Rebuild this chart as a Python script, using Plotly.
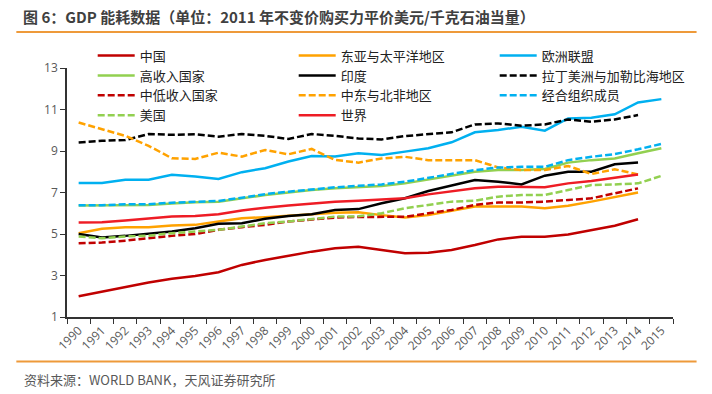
import plotly.graph_objects as go

years = ['1990', '1991', '1992', '1993', '1994', '1995', '1996', '1997', '1998', '1999',
         '2000', '2001', '2002', '2003', '2004', '2005', '2006', '2007', '2008', '2009',
         '2010', '2011', '2012', '2013', '2014', '2015']

china = [2.0, 2.22, 2.47, 2.66, 2.84, 2.98, 3.16, 3.51, 3.75, 3.96, 4.15, 4.31, 4.39, 4.23,
         4.07, 4.1, 4.23, 4.47, 4.74, 4.87, 4.87, 4.98, 5.19, 5.4, 5.71, None]
east_asia = [5.04, 5.25, 5.33, 5.33, 5.41, 5.44, 5.6, 5.76, 5.81, 5.87, 5.95, 6.03, 6.05, 5.91,
             5.8, 5.91, 6.1, 6.32, 6.32, 6.32, 6.24, 6.36, 6.56, 6.77, 7.0, None]
eu = [7.46, 7.46, 7.61, 7.61, 7.85, 7.77, 7.65, 7.98, 8.17, 8.49, 8.76, 8.73, 8.89, 8.81,
      8.97, 9.13, 9.42, 9.9, 10.01, 10.17, 9.98, 10.57, 10.6, 10.77, 11.34, 11.5]
high_income = [6.37, 6.37, 6.4, 6.4, 6.47, 6.53, 6.55, 6.72, 6.88, 7.0, 7.12, 7.2, 7.26, 7.31,
               7.44, 7.63, 7.84, 8.0, 8.08, 8.08, 8.13, 8.44, 8.56, 8.64, 8.89, 9.13]
india = [5.0, 4.83, 4.91, 5.0, 5.12, 5.28, 5.49, 5.52, 5.73, 5.87, 5.95, 6.16, 6.2, 6.48,
         6.72, 7.07, 7.33, 7.6, 7.52, 7.39, 7.81, 8.0, 8.0, 8.36, 8.45, None]
latin = [9.41, 9.49, 9.53, 9.82, 9.78, 9.81, 9.69, 9.82, 9.73, 9.58, 9.82, 9.73, 9.6, 9.56,
         9.72, 9.82, 9.9, 10.28, 10.33, 10.22, 10.28, 10.52, 10.41, 10.52, 10.73, None]
lower_middle = [4.55, 4.59, 4.68, 4.8, 4.91, 5.0, 5.2, 5.33, 5.44, 5.6, 5.68, 5.79, 5.82, 5.83,
                5.83, 6.0, 6.16, 6.4, 6.52, 6.52, 6.56, 6.64, 6.72, 6.96, 7.2, None]
mena = [10.37, 10.05, 9.73, 9.25, 8.65, 8.62, 8.92, 8.73, 9.05, 8.84, 9.1, 8.57, 8.44, 8.64,
        8.72, 8.56, 8.56, 8.56, 8.21, 8.08, 8.08, 8.28, 7.89, 8.12, 7.87, None]
oecd = [6.39, 6.39, 6.43, 6.43, 6.51, 6.56, 6.59, 6.75, 6.92, 7.04, 7.16, 7.25, 7.32, 7.39,
        7.52, 7.71, 7.92, 8.08, 8.2, 8.24, 8.24, 8.56, 8.72, 8.85, 9.08, 9.34]
usa = [4.88, 4.8, 4.88, 4.92, 5.04, 5.12, 5.2, 5.36, 5.52, 5.6, 5.71, 5.84, 5.85, 6.0,
       6.24, 6.4, 6.56, 6.6, 6.8, 6.88, 6.88, 7.12, 7.36, 7.39, 7.44, 7.8]
world = [5.55, 5.57, 5.65, 5.73, 5.84, 5.87, 5.95, 6.13, 6.27, 6.37, 6.48, 6.56, 6.6, 6.67,
         6.72, 6.91, 7.04, 7.2, 7.28, 7.28, 7.25, 7.44, 7.55, 7.71, 7.87, None]

series = [
    ('中国', china, '#C00000', 'solid'),
    ('东亚与太平洋地区', east_asia, '#FFA200', 'solid'),
    ('欧洲联盟', eu, '#00B0F0', 'solid'),
    ('高收入国家', high_income, '#92D050', 'solid'),
    ('印度', india, '#000000', 'solid'),
    ('拉丁美洲与加勒比海地区', latin, '#000000', 'dash'),
    ('中低收入国家', lower_middle, '#C00000', 'dash'),
    ('中东与北非地区', mena, '#FFA200', 'dash'),
    ('经合组织成员', oecd, '#00B0F0', 'dash'),
    ('美国', usa, '#92D050', 'dash'),
    ('世界', world, '#EE1C25', 'solid'),
]

fig = go.Figure()
for name, vals, color, style in series:
    fig.add_trace(go.Scatter(
        x=years, y=vals, name=name, mode='lines',
        line=dict(color=color, width=2.5, dash=('7px,3px' if style == 'dash' else 'solid')),
    ))

CJK = 'Noto Sans CJK SC'
axis_col = '#333333'
lab_col = '#595959'

fig.update_layout(
    width=712, height=394,
    margin=dict(l=67, r=39, t=68, b=77, autoexpand=False),
    paper_bgcolor='white', plot_bgcolor='white',
    showlegend=True,
    legend=dict(
        orientation='h', x=0.0424, xanchor='left', y=1.110, yanchor='top',
        bgcolor='rgba(0,0,0,0)', borderwidth=0,
        font=dict(family=CJK, size=13, color='#222222'),
        itemwidth=37, entrywidth=149, entrywidthmode='pixels',
        traceorder='normal',
    ),
    title=dict(
        text='图 6：GDP 能耗数据（单位：2011 年不变价购买力平价美元/千克石油当量）',
        x=23 / 712, xanchor='left', xref='container',
        y=1 - 18 / 394, yanchor='middle', yref='container',
        font=dict(family=CJK, size=15, color='#404040', weight='bold'),
    ),
    xaxis=dict(
        type='category', showgrid=False, zeroline=False,
        showline=True, linecolor=axis_col, linewidth=1.5,
        ticks='outside', tickson='boundaries', ticklen=5, tickcolor=axis_col, tickwidth=1.2,
        tickangle=-45, tickfont=dict(family='Open Sans', size=12, color=lab_col),
        range=[-0.5, 25.5],
    ),
    yaxis=dict(
        range=[1, 13], dtick=2, tick0=1, showgrid=False, zeroline=False,
        showline=True, linecolor=axis_col, linewidth=1.5,
        ticks='outside', ticklen=5, tickcolor=axis_col, tickwidth=1.2,
        tickfont=dict(family='Open Sans', size=12, color=lab_col),
    ),
    shapes=[
        dict(type='line', xref='paper', yref='paper', x0=-0.0836, x1=1.0389,
             y0=1.145, y1=1.145, line=dict(color='#EE9A3A', width=2)),
        dict(type='line', xref='paper', yref='paper', x0=-0.0836, x1=1.0389,
             y0=-0.179, y1=-0.179, line=dict(color='#EE9A3A', width=2)),
    ],
    annotations=[
        dict(text='资料来源：WORLD BANK，天风证券研究所', xref='paper', yref='paper',
             x=(22 - 66.7) / 606.7, xanchor='left', y=(317.3 - 380) / 249.6, yanchor='middle',
             showarrow=False, font=dict(family=CJK, size=13, color=lab_col)),
    ],
)

fig.write_html('out.html', config={'displayModeBar': False},
               post_script="document.body.style.margin='0';document.body.style.overflow='hidden';")
